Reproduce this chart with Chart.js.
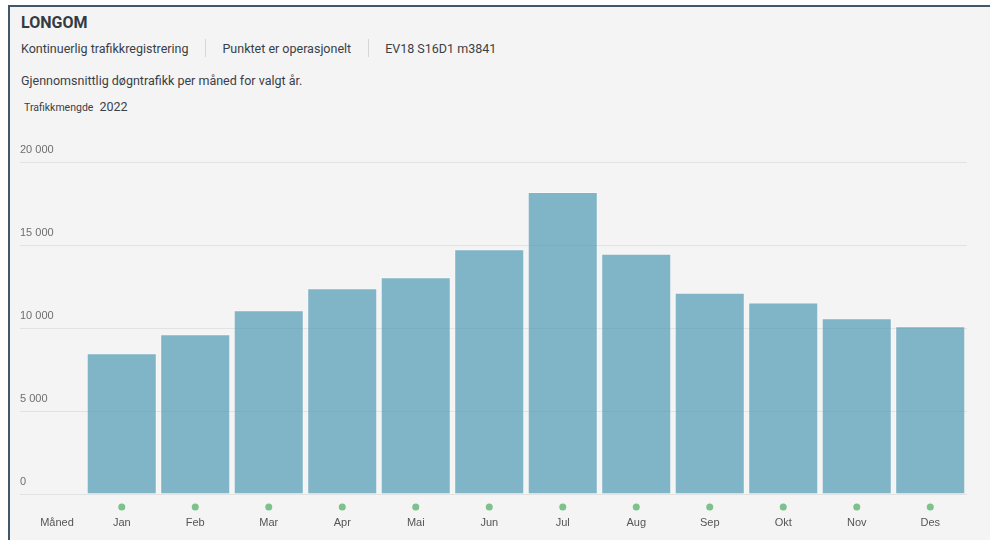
<!DOCTYPE html>
<html lang="no">
<head>
  <meta charset="UTF-8">
  <title>LONGOM</title>
  <script src="https://cdn.jsdelivr.net/npm/chart.js"></script>
  <style>
    body {
      margin: 0;
      width: 990px;
      height: 540px;
      overflow: hidden;
      background: #ffffff;
      font-family: Roboto, Arial, sans-serif;
      color: #3a4047;
      position: relative;
    }

    .frame {
      position: absolute;
      left: 8px;
      top: 5px;
      width: 1000px;
      height: 560px;
      background: #f4f4f4;
      border-left: 2px solid #41576a;
      border-top: 2px solid #41576a;
    }

    .title {
      position: absolute;
      left: 21px;
      top: 13px;
      font-size: 16px;
      font-weight: bold;
      color: #333b42;
    }

    .meta {
      position: absolute;
      left: 21px;
      top: 39px;
      font-size: 12.5px;
      display: flex;
      align-items: center;
      height: 18px;
    }

    .meta span.sep {
      width: 1px;
      height: 18px;
      background: #d6d6d6;
      margin: 0 16px 0 17px;
    }

    .desc {
      position: absolute;
      left: 21px;
      top: 73px;
      font-size: 12.5px;
    }

    .year {
      position: absolute;
      left: 24px;
      top: 99px;
      font-size: 12.5px;
    }

    .year small {
      font-size: 10.5px;
      margin-right: 6px;
    }

    #chart {
      position: absolute;
      left: 0;
      top: 0;
    }
  </style>
</head>
<body>

<div class="frame"></div>
<div class="title">LONGOM</div>
<div class="meta">
  <span>Kontinuerlig trafikkregistrering</span>
  <span class="sep"></span>
  <span>Punktet er operasjonelt</span>
  <span class="sep"></span>
  <span>EV18 S16D1 m3841</span>
</div>
<div class="desc">Gjennomsnittlig døgntrafikk per måned for valgt år.</div>
<div class="year"><small>Trafikkmengde</small>2022</div>

<canvas id="chart" width="990" height="540"></canvas>

<script>
  const months = ['Jan', 'Feb', 'Mar', 'Apr', 'Mai', 'Jun', 'Jul', 'Aug', 'Sep', 'Okt', 'Nov', 'Des'];
  const traffic = [8480, 9630, 11070, 12400, 13060, 14750, 18200, 14480, 12130, 11530, 10590, 10110];
  const yTicks = [0, 5000, 10000, 15000, 20000];

  const tickFont = { family: 'Liberation Sans, Arial, sans-serif', size: 11 };

  // green status dots under each month + the "Måned" row label
  const monthExtras = {
    id: 'monthExtras',
    afterDraw(chart) {
      const ctx = chart.ctx;
      const x = chart.scales.x;
      ctx.save();
      ctx.fillStyle = '#7cc28a';
      months.forEach((m, i) => {
        ctx.beginPath();
        ctx.arc(x.getPixelForTick(i), x.top + 13, 3.5, 0, Math.PI * 2);
        ctx.fill();
      });
      ctx.fillStyle = '#555';
      ctx.font = '11px ' + tickFont.family;
      ctx.textAlign = 'center';
      ctx.textBaseline = 'middle';
      ctx.fillText('Måned', chart.chartArea.left - 28, x.top + 29);
      ctx.restore();
    }
  };

  new Chart(document.getElementById('chart'), {
    type: 'bar',
    data: {
      labels: months,
      datasets: [{
        data: traffic,
        backgroundColor: 'rgba(79,152,180,0.7)',
        borderColor: 'rgba(255,255,255,0.35)',
        borderWidth: 1,
        categoryPercentage: 1,
        barPercentage: 0.953
      }]
    },
    options: {
      responsive: false,
      animation: false,
      layout: { padding: { left: 20, right: 23, top: 162, bottom: 12 } },
      plugins: {
        legend: { display: false },
        tooltip: { enabled: false }
      },
      scales: {
        x: {
          grid: { display: false, drawTicks: false },
          border: { display: false },
          ticks: { font: tickFont, color: '#555', padding: 22 },
          afterFit(scale) { scale.height = 34; }
        },
        y: {
          min: 0,
          max: 20000,
          afterFit(scale) { scale.width = 65; },
          afterBuildTicks(scale) { scale.ticks = yTicks.map(v => ({ value: v })); },
          grid: { color: '#e2e2e2', tickLength: 65, drawTicks: true },
          border: { display: false },
          ticks: {
            font: tickFont,
            color: '#6e6e6e',
            crossAlign: 'far',
            labelOffset: -12,
            padding: 0,
            callback: v => v === 0 ? '0' : String(v).replace(/\B(?=(\d{3})+(?!\d))/g, ' ')
          }
        }
      }
    },
    plugins: [monthExtras]
  });
</script>

</body>
</html>
